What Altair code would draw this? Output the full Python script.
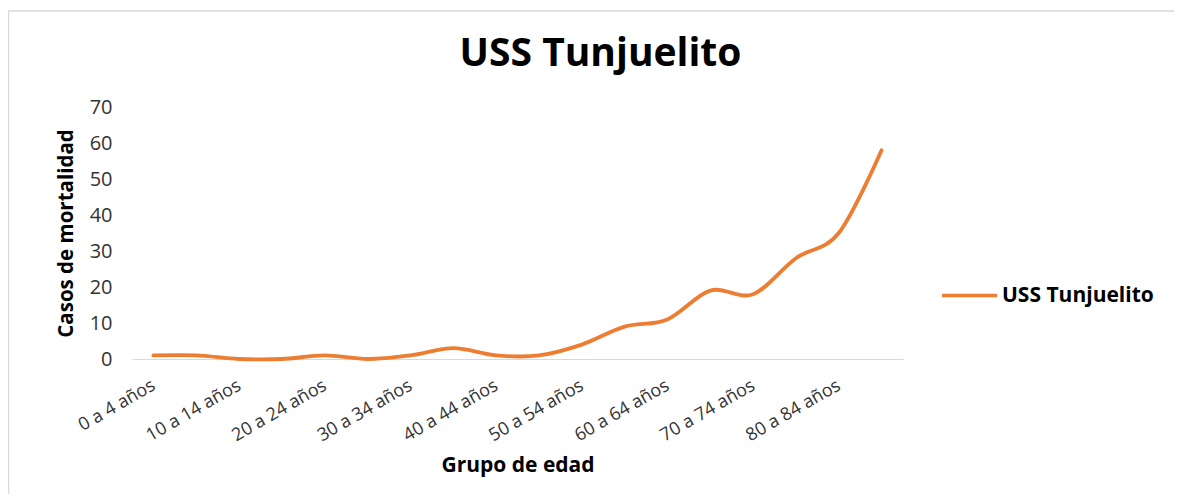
import altair as alt
import pandas as pd

grupos = ["0 a 4 años", "5 a 9 años", "10 a 14 años", "15 a 19 años", "20 a 24 años",
          "25 a 29 años", "30 a 34 años", "35 a 39 años", "40 a 44 años", "45 a 49 años",
          "50 a 54 años", "55 a 59 años", "60 a 64 años", "65 a 69 años", "70 a 74 años",
          "75 a 79 años", "80 a 84 años", "85 años y más"]
casos = [1, 1, 0, 0, 1, 0, 1, 3, 1, 1, 4, 9, 11, 19, 18, 28, 35, 58]
serie = ["USS Tunjuelito"] * len(grupos)
etiquetas_x = ["0 a 4 años", "10 a 14 años", "20 a 24 años", "30 a 34 años", "40 a 44 años",
               "50 a 54 años", "60 a 64 años", "70 a 74 años", "80 a 84 años"]
ticks_y = [0, 10, 20, 30, 40, 50, 60, 70]

df = pd.DataFrame({"grupo": grupos, "casos": casos, "serie": serie})

FONT = "Open Sans"
ORANGE = "#ED7D31"

line = alt.Chart(df).mark_line(
    interpolate="cardinal", strokeWidth=3.8, strokeCap="round"
).encode(
    x=alt.X("grupo:N", sort=grupos, scale=alt.Scale(padding=0.5),
            axis=alt.Axis(values=etiquetas_x, labelAngle=-30, labelAlign="right",
                          labelBaseline="middle", labelPadding=25, labelFontSize=18,
                          labelFont=FONT, labelColor="#333333", ticks=False,
                          domainColor="#d9d9d9", domainWidth=1.2,
                          title="Grupo de edad", titleFont=FONT, titleFontSize=21,
                          titleFontWeight="bold", titleColor="#000000",
                          titleX=385.5, titleY=112, titleBaseline="alphabetic",
                          titleAlign="center")),
    y=alt.Y("casos:Q", scale=alt.Scale(domain=[0, 70], nice=False),
            axis=alt.Axis(values=ticks_y, grid=False, domain=False, ticks=False,
                          labelPadding=20, labelFontSize=20, labelFont=FONT,
                          labelColor="#333333",
                          title="Casos de mortalidad", titleFont=FONT, titleFontSize=20.5,
                          titleFontWeight="bold", titleColor="#000000",
                          titleAngle=-90, titleX=-60, titleY=126,
                          titleBaseline="alphabetic", titleAlign="center")),
    color=alt.Color("serie:N", scale=alt.Scale(range=[ORANGE]),
                    legend=alt.Legend(title=None, orient="none", legendX=808, legendY=159,
                                      symbolType="stroke", symbolSize=3025,
                                      symbolStrokeWidth=3.5, labelFont=FONT,
                                      labelFontSize=21, labelFontWeight="bold",
                                      labelColor="#000000", labelOffset=3)),
)

marco = alt.Chart(pd.DataFrame({"m": [0]})).mark_rect(
    filled=False, stroke="#d9d9d9", strokeWidth=1.5
).encode(
    x=alt.value(-123.5), x2=alt.value(1200),
    y=alt.value(-96), y2=alt.value(800),
)

chart = alt.layer(marco, line).properties(
    width=771, height=252,
    background="white",
    title=alt.Title("USS Tunjuelito", font=FONT, fontSize=39, fontWeight="bold",
                    color="#000000", frame="group", anchor="middle", dx=83,
                    offset=-95, baseline="alphabetic"),
    autosize=alt.AutoSizeParams(type="none"),
    padding={"left": 124, "top": 99, "right": 271, "bottom": 135},
).configure_view(stroke="transparent", strokeWidth=0)

chart.save("out.html", embed_options={"renderer": "svg", "actions": False})
